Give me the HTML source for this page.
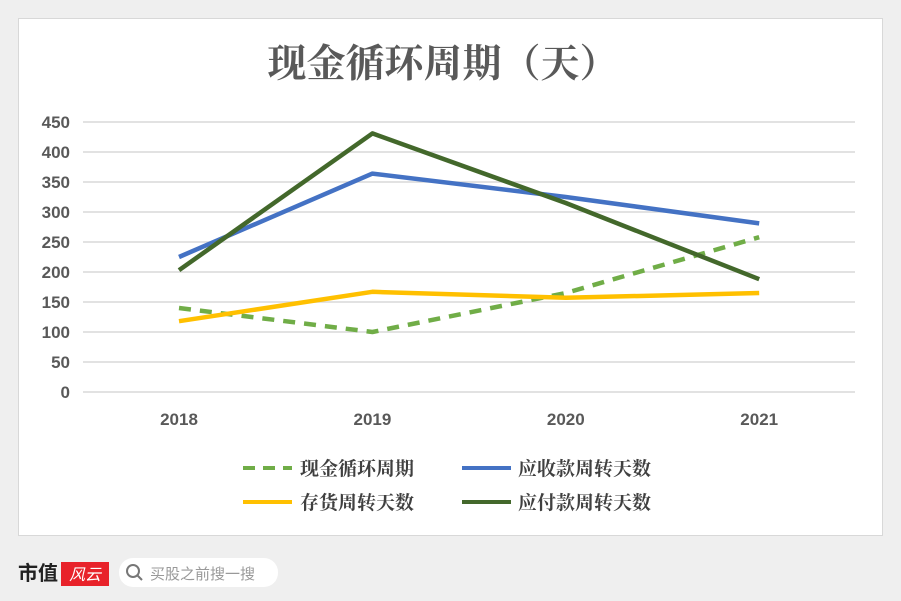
<!DOCTYPE html>
<html><head><meta charset="utf-8"><style>
body{margin:0;width:901px;height:601px;background:#efefef;overflow:hidden;font-family:"Liberation Sans","Noto Sans CJK SC",sans-serif;}
#panel{position:absolute;left:18px;top:18px;width:865px;height:518px;background:#fff;border:1px solid #d8d8d8;box-sizing:border-box;}
</style></head><body>
<div id="panel"></div>
<svg width="901" height="601" style="position:absolute;left:0;top:0">
<text x="443" y="77" text-anchor="middle" font-size="39" font-weight="bold" fill="#595959" font-family="'Noto Serif CJK SC','Noto Sans CJK SC',serif">现金循环周期（天）</text>
<g id="grid"></g><g id="xt"></g><g id="series"></g>
<g font-size="19" font-weight="bold" fill="#404040" font-family="'Noto Serif CJK SC','Noto Sans CJK SC',serif">
<line x1="243" y1="468" x2="292" y2="468" stroke="#70ad47" stroke-width="4" stroke-dasharray="12,8"/>
<text x="300" y="475">现金循环周期</text>
<line x1="462" y1="468" x2="511" y2="468" stroke="#4472c4" stroke-width="4"/>
<text x="518" y="475">应收款周转天数</text>
<line x1="243" y1="502" x2="292" y2="502" stroke="#ffc000" stroke-width="4"/>
<text x="300" y="509">存货周转天数</text>
<line x1="462" y1="502" x2="511" y2="502" stroke="#43682b" stroke-width="4"/>
<text x="518" y="509">应付款周转天数</text>
</g>
<text x="18" y="580" font-size="20" font-weight="bold" fill="#222">市值</text>
<rect x="61" y="562" width="48" height="24" fill="#e8222a"/>
<text x="85" y="580" text-anchor="middle" font-size="16" fill="#fff" font-style="italic">风云</text>
<rect x="119" y="558" width="159" height="29" rx="14" fill="#fff"/>
<circle cx="133" cy="571" r="6" fill="none" stroke="#777" stroke-width="2"/>
<line x1="137" y1="575" x2="142" y2="580" stroke="#777" stroke-width="2"/>
<text x="150" y="579" font-size="15" fill="#999">买股之前搜一搜</text>
</svg>
<script>
const categories=["2018","2019","2020","2021"];
const yTicks=[0,50,100,150,200,250,300,350,400,450];
const cashCycle=[140,100,165,258];
const receivables=[225,364,325,281];
const inventory=[118,167,157,165];
const payables=[203,431,315,188];
const NS="http://www.w3.org/2000/svg";
const X=i=>179+i*193.4, Y=v=>392-v*0.6;
function mk(tag,attrs,parent){const e=document.createElementNS(NS,tag);for(const k in attrs)e.setAttribute(k,attrs[k]);parent.appendChild(e);return e;}
const grid=document.getElementById('grid');
yTicks.forEach(t=>{
 const l=mk('line',{x1:83,x2:855,y1:Y(t),y2:Y(t),stroke:'#d9d9d9','stroke-width':1.5},grid);
 
 
 const tx=mk('text',{x:70,y:Y(t)+6,'text-anchor':'end','font-size':17,'font-weight':'bold',fill:'#595959'},grid);
 tx.textContent=t;
 
 
});
const xt=document.getElementById('xt');
categories.forEach((c,i)=>{
 const tx=mk('text',{x:X(i),y:425,'text-anchor':'middle','font-size':17,'font-weight':'bold',fill:'#595959'},xt);
 tx.textContent=c;
 
 
});
const sg=document.getElementById('series');
[[cashCycle,'#70ad47','12,9','cash-cycle-line'],[inventory,'#ffc000','','inventory-line'],[receivables,'#4472c4','','receivables-line'],[payables,'#43682b','','payables-line']].forEach(([d,c,dash,n])=>{
 const p=mk('polyline',{points:d.map((v,i)=>X(i)+','+Y(v)).join(' '),fill:'none',stroke:c,'stroke-width':4.5,'stroke-linejoin':'round'},sg);
 if(dash)p.setAttribute('stroke-dasharray',dash);
 
 
});
</script>
</body></html>
